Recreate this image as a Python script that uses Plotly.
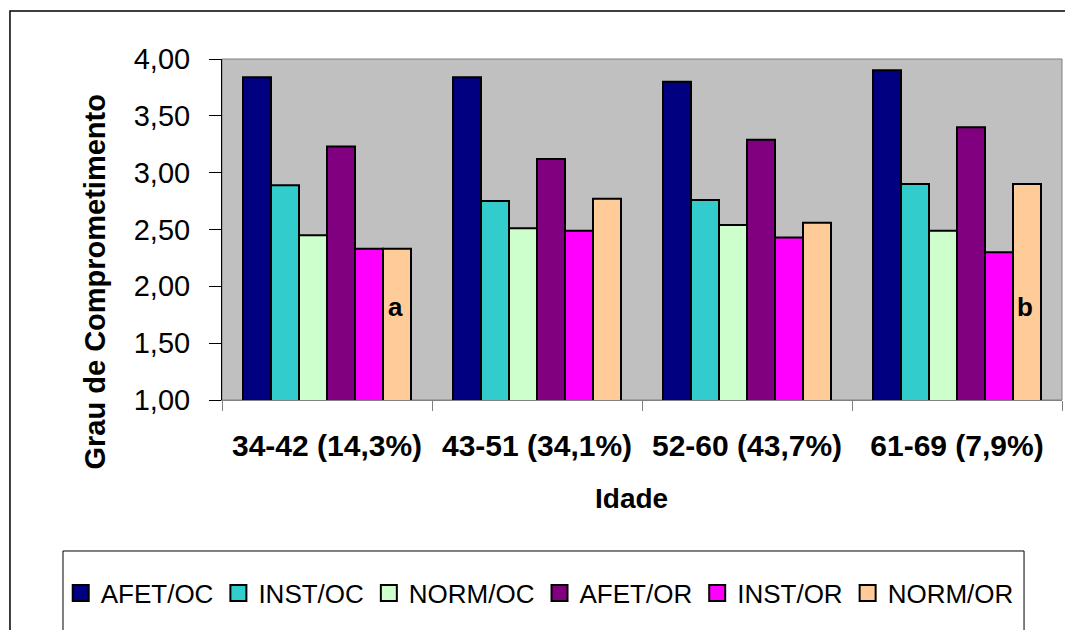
import plotly.graph_objects as go

# Age bands (share of sample in parentheses)
categories = ["34-42 (14,3%)", "43-51 (34,1%)", "52-60 (43,7%)", "61-69 (7,9%)"]

# Mean degree of impairment per subgroup
afet_oc = [3.84, 3.84, 3.80, 3.90]
inst_oc = [2.89, 2.75, 2.76, 2.90]
norm_oc = [2.45, 2.51, 2.54, 2.49]
afet_or = [3.23, 3.12, 3.29, 3.40]
inst_or = [2.33, 2.49, 2.43, 2.30]
norm_or = [2.33, 2.77, 2.56, 2.90]

series_names = ["AFET/OC", "INST/OC", "NORM/OC", "AFET/OR", "INST/OR", "NORM/OR"]
series_values = [afet_oc, inst_oc, norm_oc, afet_or, inst_or, norm_or]
series_colors = ["#000080", "#33CCCC", "#CCFFCC", "#800080", "#FF00FF", "#FFCC99"]

# Significance letters placed on the NORM/OR bars
letter_marks = [("34-42 (14,3%)", "a"), ("61-69 (7,9%)", "b")]

FONT = "Liberation Sans, Arial, sans-serif"

fig = go.Figure()

for name, vals, col in zip(series_names, series_values, series_colors):
    fig.add_trace(go.Bar(
        x=categories, y=vals, name=name, showlegend=False,
        marker=dict(color=col, line=dict(color="black", width=2)),
        hoverinfo="skip",
    ))

# legend entries with larger square swatches
for name, col in zip(series_names, series_colors):
    fig.add_trace(go.Scatter(
        x=[None], y=[None], mode="markers", name=name,
        marker=dict(symbol="square", size=16, color=col,
                    line=dict(color="black", width=2)),
    ))

for cat, letter in letter_marks:
    fig.add_annotation(
        x=cat, y=1.82, xref="x", yref="y", text=f"<b>{letter}</b>",
        showarrow=False, xshift=68,
        font=dict(family=FONT, size=26, color="black"),
    )

# axis titles
fig.add_annotation(
    x=-0.151, y=0.345, xref="paper", yref="paper",
    xanchor="center", yanchor="middle",
    text="<b>Grau de Comprometimento</b>", textangle=-90, showarrow=False,
    font=dict(family=FONT, size=29, color="black"),
)
fig.add_annotation(
    x=0.488, y=-0.2874, xref="paper", yref="paper",
    xanchor="center", yanchor="middle",
    text="<b>Idade</b>", showarrow=False,
    font=dict(family=FONT, size=28, color="black"),
)

# plot-area frame, legend box and outer chart border
fig.add_shape(type="rect", xref="paper", yref="paper", x0=0, x1=1, y0=0, y1=1,
              line=dict(color="#808080", width=1), layer="below")
fig.add_shape(type="rect", xref="paper", yref="paper",
              x0=-0.1893, x1=0.9548, y0=-0.72, y1=-0.4428,
              line=dict(color="black", width=1))
fig.add_shape(type="rect", xref="paper", yref="paper",
              x0=-0.2524, x1=1.02, y0=-0.72, y1=1.1408,
              line=dict(color="black", width=1.5))

fig.update_layout(
    width=1065, height=630,
    margin=dict(l=222, r=3, t=59, b=230),
    paper_bgcolor="white", plot_bgcolor="#C0C0C0",
    barmode="group", bargap=0.2, bargroupgap=0,
    separators=",.",
    font=dict(family=FONT, color="black"),
    legend=dict(
        orientation="h", x=-0.192, xanchor="left", y=-0.566, yanchor="middle",
        font=dict(family=FONT, size=26), bgcolor="rgba(0,0,0,0)",
        traceorder="normal",
    ),
    xaxis=dict(
        type="category", showgrid=False, zeroline=False,
        showline=True, linecolor="#808080", linewidth=1,
        ticks="outside", tickson="boundaries", ticklen=10, tickcolor="#808080",
        ticklabelstandoff=19,
        tickfont=dict(family=FONT, size=30, color="black"),
        tickprefix="<b>", ticksuffix="</b>",
    ),
    yaxis=dict(
        range=[1, 4], showgrid=False, zeroline=False,
        showline=True, linecolor="black", linewidth=1,
        ticks="outside", ticklen=12, tickcolor="black",
        dtick=0.5, tick0=1, tickformat=".2f",
        ticklabelstandoff=13,
        tickfont=dict(family=FONT, size=29, color="black"),
    ),
)

fig.write_html("out.html")
